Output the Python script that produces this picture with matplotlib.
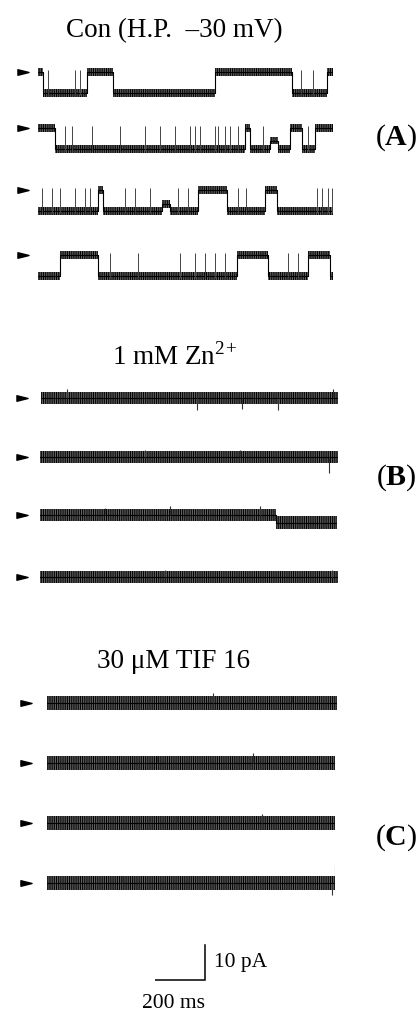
import matplotlib.pyplot as plt
import numpy as np
from matplotlib.path import Path

plt.rcParams['font.family'] = ['Liberation Serif', 'DejaVu Serif']
plt.rcParams['mathtext.fontset'] = 'custom'
plt.rcParams['mathtext.rm'] = 'Liberation Serif'
plt.rcParams['mathtext.bf'] = 'Liberation Serif:bold'
plt.rcParams['hatch.linewidth'] = 0.7

W, H = 418, 1011          # figure size in pixels
MS_PER_PX = 4.0           # 200 ms scale bar = 50 px
PX_PER_PA = 3.5           # 10 pA scale bar = 35 px

# ---- Control traces (A): segment edges in ms, state per segment (0 closed, 1 open)
unit_amp = 6.0  # pA, single channel amplitude (openings go downward)
a_edges = [
    [0, 20, 196, 300, 708, 1016, 1156, 1180],
    [0, 68, 828, 848, 928, 960, 1008, 1056, 1108, 1180],
    [0, 240, 260, 496, 528, 640, 756, 908, 956, 1180],
    [0, 88, 240, 796, 920, 1080, 1168, 1180],
]
a_states = [
    [0, 1, 0, 1, 0, 1, 0],
    [0, 1, 0, 1, 0.6, 1, 0, 1, 0],
    [1, 0, 1, 0.65, 1, 0, 1, 0, 1],
    [1, 0, 1, 0, 1, 0, 1],
]
# brief closures during openings (ms)
a_spikes = [
    [148, 168, 40, 1050, 1100],
    [108, 136, 216, 328, 428, 488, 548, 608, 628, 648, 708, 720, 748, 768, 800, 900, 1080],
    [16, 56, 88, 148, 188, 208, 348, 388, 448, 560, 600, 800, 830, 1116, 1136, 1160, 1176],
    [288, 400, 568, 628, 668, 708, 748, 1000, 1040],
]

# ---- Zn2+ traces (B): baseline level in pA per segment
b_edges = [[0, 1188], [0, 1192], [0, 944, 1188], [0, 1192]]
b_levels = [[0], [0], [0, -2.2], [0]]
b_spikes = [
    [(104, 2.5), (624, -3.5), (804, -3.0), (948, -3.5), (1168, 2.5)],
    [(420, 2.0), (800, 2.0), (1156, -4.5)],
    [(260, 2.0), (520, 2.5), (880, 2.5)],
    [(500, 2.0), (1170, 2.0)],
]

# ---- TIF 16 traces (C)
c_edges = [[0, 1160], [0, 1152], [0, 1152], [0, 1152]]
c_levels = [[0], [0], [0], [0]]
c_spikes = [
    [(664, 3.0), (980, 2.0)],
    [(440, 2.0), (824, 3.0)],
    [(520, 2.0), (860, 2.5)],
    [(300, 2.0), (1150, 5.0), (1140, -3.5)],
]

# pixel layout: (trace start x, closed level y, arrow centre x)
a_rows = [(38, 72, 23), (38, 128, 23), (38, 190, 23), (38, 255, 23)]
b_rows = [(41, 398, 22), (40, 457, 22), (40, 515, 22), (40, 577, 22)]
c_rows = [(47, 703, 26), (47, 763, 26), (47, 823, 26), (47, 883, 26)]

fig = plt.figure(figsize=(W / 100, H / 100), dpi=100)

arrow = Path([(-1, 0.5), (1, 0), (-1, -0.5), (-1, 0.5)],
             [Path.MOVETO, Path.LINETO, Path.LINETO, Path.CLOSEPOLY])


def trace_axes(x0, y0, dur, lo=-12, hi=8):
    height_px = (hi - lo) * PX_PER_PA
    top_px = y0 - hi * PX_PER_PA
    rect = [x0 / W, 1 - (top_px + height_px) / H, dur / MS_PER_PX / W, height_px / H]
    ax = fig.add_axes(rect)
    ax.set_xlim(0, dur)
    ax.set_ylim(lo, hi)
    ax.axis('off')
    return ax


def draw_trace(ax, edges, levels, half):
    lv = np.append(levels, levels[-1])
    ax.fill_between(edges, lv - half, lv + half, step='post', facecolor='#6e6e6e',
                    edgecolor='black', hatch='|' * 9, linewidth=0)
    ax.step(edges, lv, where='post', color='black', lw=0.8)


def draw_arrow(ax, x_arrow, x0):
    t = (x_arrow - x0) * MS_PER_PX
    ax.plot([t], [0], marker=arrow, markersize=8, color='black', clip_on=False)


for (x0, y0, xa), edges, states, spikes in zip(a_rows, a_edges, a_states, a_spikes):
    ax = trace_axes(x0, y0, edges[-1])
    levels = -unit_amp * np.array(states)
    draw_trace(ax, edges, levels, 1.1)
    ax.vlines(spikes, -unit_amp - 0.6, 0.6, color='#444444', lw=0.7)
    draw_arrow(ax, xa, x0)

for rows, edges_all, levels_all, spikes_all, half in [
        (b_rows, b_edges, b_levels, b_spikes, 1.8),
        (c_rows, c_edges, c_levels, c_spikes, 2.0)]:
    for (x0, y0, xa), edges, levels, spikes in zip(rows, edges_all, levels_all, spikes_all):
        ax = trace_axes(x0, y0, edges[-1])
        draw_trace(ax, edges, np.array(levels, float), half)
        for t, amp in spikes:
            k = min(np.searchsorted(edges, t, side='right') - 1, len(levels) - 1)
            ax.vlines(t, levels[k], levels[k] + amp, color='#333333', lw=0.8)
        draw_arrow(ax, xa, x0)

# scale bar: corner at (205, 980) px
bar_t, bar_i = 200, 10
sb = trace_axes(155, 980, bar_t + 8, lo=-2, hi=bar_i + 2)
sb.plot([0, bar_t, bar_t], [0, 0, bar_i], color='black', lw=1.1, solid_joinstyle='miter')


def ftext(x, y, s, **kw):
    fig.text(x / W, 1 - y / H, s, va='baseline', **kw)


ftext(174, 37, 'Con (H.P.  \u201330 mV)', ha='center', fontsize=19.5)
ftext(175, 365, r'1 mM Zn$^{2}$$^{+}$', ha='center', fontsize=19.5)
ftext(174, 668, '30 \u03bcM TIF 16', ha='center', fontsize=19.5)
for lab, y in [('A', 145), ('B', 485), ('C', 845)]:
    ftext(417, y, '(' + r'$\mathbf{' + lab + '}$' + ')', ha='right', fontsize=21.5)
ftext(214, 967, '10 pA', fontsize=15.5)
ftext(173, 1008, '200 ms', ha='center', fontsize=15.5)

fig.savefig('out.png', dpi=100)
